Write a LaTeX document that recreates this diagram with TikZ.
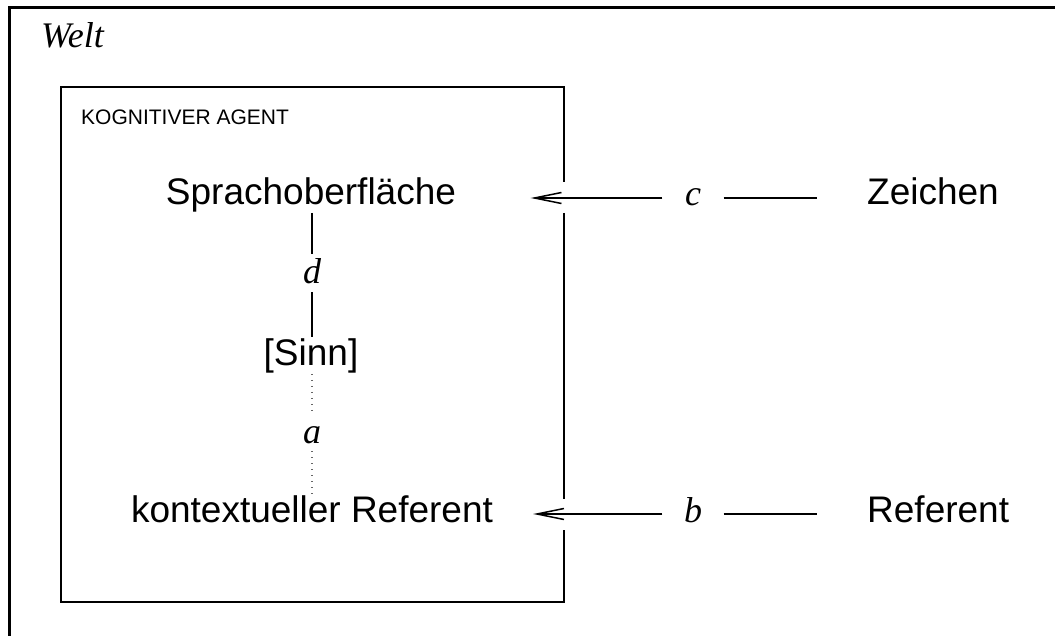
\documentclass[tikz,border=0pt]{standalone}
\usepackage{fontspec}
\setmainfont{Liberation Sans}
\newfontfamily\serifit{Liberation Serif}
\usetikzlibrary{arrows.meta}
\tikzset{
  big/.style={font=\fontsize{37}{44}\selectfont, inner sep=0pt},
  small/.style={font=\fontsize{21}{25}\selectfont, inner sep=0pt},
  itfont/.style={font=\serifit\itshape\fontsize{36}{42}\selectfont},
  hlab/.style={itfont, inner sep=0pt, minimum width=61pt, text height=16pt, text depth=0pt},
  vlab/.style={itfont, inner xsep=0pt, inner ysep=6pt, text height=24pt, text depth=2pt},
  solidline/.style={line width=2.2pt},
  dotline/.style={line width=1.4pt, black!60, dash pattern=on 1.2pt off 4.8pt},
  arr/.style={line width=2.2pt, -{Straight Barb[length=27pt,width=11pt,line width=1.5pt]}},
  boxline/.style={line width=2.4pt},
  frame/.style={line width=3pt}
}
\begin{document}
\begin{tikzpicture}[x=1pt,y=-1pt]
\path[use as bounding box, clip] (0,0) rectangle (1055,636);
% outer frame (Welt)
\draw[frame] (9,660) -- (9,8) -- (1080,8);
\node[itfont, anchor=base west, inner sep=0pt] (welt) at (41,48) {Welt};
% inner box (kognitiver Agent)
\draw[boxline] (564,182) -- (564,87) -- (61,87) -- (61,602) -- (564,602) -- (564,530);
\draw[boxline] (564,213) -- (564,499);
\node[small, anchor=base west] (agent) at (81,125) {KOGNITIVER AGENT};
% texts
\node[big, anchor=base] (spr) at (311,205) {Sprachoberfläche};
\node[big, anchor=base west] (zei) at (867,205) {Zeichen};
\node[big, anchor=base, inner sep=1pt] (sinn) at (311,365) {[Sinn]};
\node[big, anchor=base] (kon) at (312,522) {kontextueller Referent};
\node[big, anchor=base west] (ref) at (867,522) {Referent};
% labels
\node[hlab] (c) at (693,198) {c};
\node[hlab] (b) at (693,514) {b};
\node[vlab, anchor=base] (d) at (312,284) {d};
\node[vlab, anchor=base] (a) at (312,443) {a};
% connectors
\draw[solidline] (d.north |- spr.south) -- (d.north);
\draw[solidline] (d.south) -- (d.south |- sinn.north);
\draw[dotline] (a.north |- sinn.south) -- (a.north);
\draw[dotline] (a.south) -- (a.south |- kon.north);
\draw[arr, shorten >=74.5pt] (c.west) -- (c.west -| spr.east);
\draw[solidline, shorten >=50pt] (c.east) -- (c.east -| zei.west);
\draw[arr, shorten >=40pt] (b.west) -- (b.west -| kon.east);
\draw[solidline, shorten >=50pt] (b.east) -- (b.east -| ref.west);
\end{tikzpicture}
\end{document}
